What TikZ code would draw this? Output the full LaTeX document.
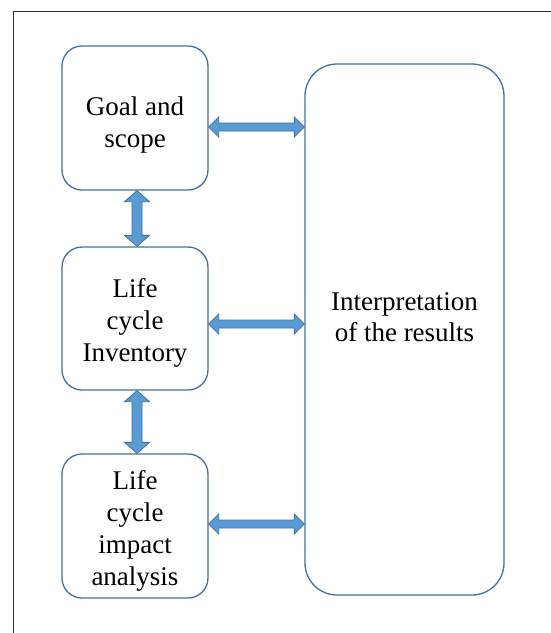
\documentclass[tikz,border=0pt]{standalone}
\usepackage{fontspec}
\setmainfont{Liberation Serif}
\usetikzlibrary{calc}
\definecolor{boxline}{HTML}{41719C}
\definecolor{arrfill}{HTML}{5B9BD5}
\definecolor{framecol}{HTML}{333333}
\tikzset{
  stagebox/.style={draw=boxline, line width=1.3pt, rounded corners=20pt, fill=white,
    minimum width=146pt, minimum height=144pt, inner sep=0pt},
  bigbox/.style={draw=boxline, line width=1.3pt, rounded corners=32pt, fill=white,
    minimum width=199pt, minimum height=531pt, inner sep=0pt},
  txt/.style={align=center, inner sep=0pt, font=\fontsize{27}{32}\selectfont},
  itxt/.style={align=center, inner sep=0pt, font=\fontsize{27}{31}\selectfont},
  arr/.style={fill=arrfill, draw=boxline, line width=0.8pt, line join=miter},
}
\newcommand\harr[2]{\draw[arr] (#1) -- ++(10,10) -- ++(0,-6) -- ($(#2)+(-10,4)$) -- ++(0,6) -- (#2) -- ++(-10,-10) -- ++(0,6) -- ($(#1)+(10,-4)$) -- ++(0,-6) -- cycle;}
\newcommand\varr[2]{\draw[arr] (#1) -- ++(12.5,11) -- ++(-7.5,0) -- ($(#2)+(5,-11)$) -- ++(7.5,0) -- (#2) -- ++(-12.5,-11) -- ++(7.5,0) -- ($(#1)+(-5,11)$) -- ++(-7.5,0) -- cycle;}
\begin{document}
\begin{tikzpicture}[x=1pt,y=-1pt]
\useasboundingbox (0,0) rectangle (551,633);
\draw[framecol, line width=1pt] (551,11) -- (13,11) -- (13,633);
\node[stagebox] (g) at (135,118) {};
\node[txt] (gt) at ($(g.center)+(0,7)$) {Goal and\\scope};
\node[stagebox, minimum height=143pt] (l) at (135,318.5) {};
\node[txt] (lt) at ($(l.center)+(0,4)$) {Life\\cycle\\Inventory};
\node[stagebox] (a) at (135,526) {};
\node[txt] (at) at ($(a.center)+(0,4.5)$) {Life\\cycle\\impact\\analysis};
\node[bigbox] (i) at (404.5,329.5) {};
\node[itxt] (it) at (404.5,317) {Interpretation\\of the results};
% horizontal arrows
\coordinate (h1a) at ($(g.east)+(0,9)$);
\coordinate (h1b) at (h1a -| i.west);
\coordinate (h2a) at ($(l.east)+(0,5.5)$);
\coordinate (h2b) at (h2a -| i.west);
\coordinate (h3a) at ($(a.east)+(0,-2)$);
\coordinate (h3b) at (h3a -| i.west);
\harr{h1a}{h1b}
\harr{h2a}{h2b}
\harr{h3a}{h3b}
% vertical arrows
\coordinate (v1a) at ($(g.south)+(2,0)$);
\coordinate (v1b) at ($(l.north)+(2,0)$);
\coordinate (v2a) at ($(l.south)+(2,0)$);
\coordinate (v2b) at ($(a.north)+(2,0)$);
\varr{v1a}{v1b}
\varr{v2a}{v2b}
\end{tikzpicture}
\end{document}
